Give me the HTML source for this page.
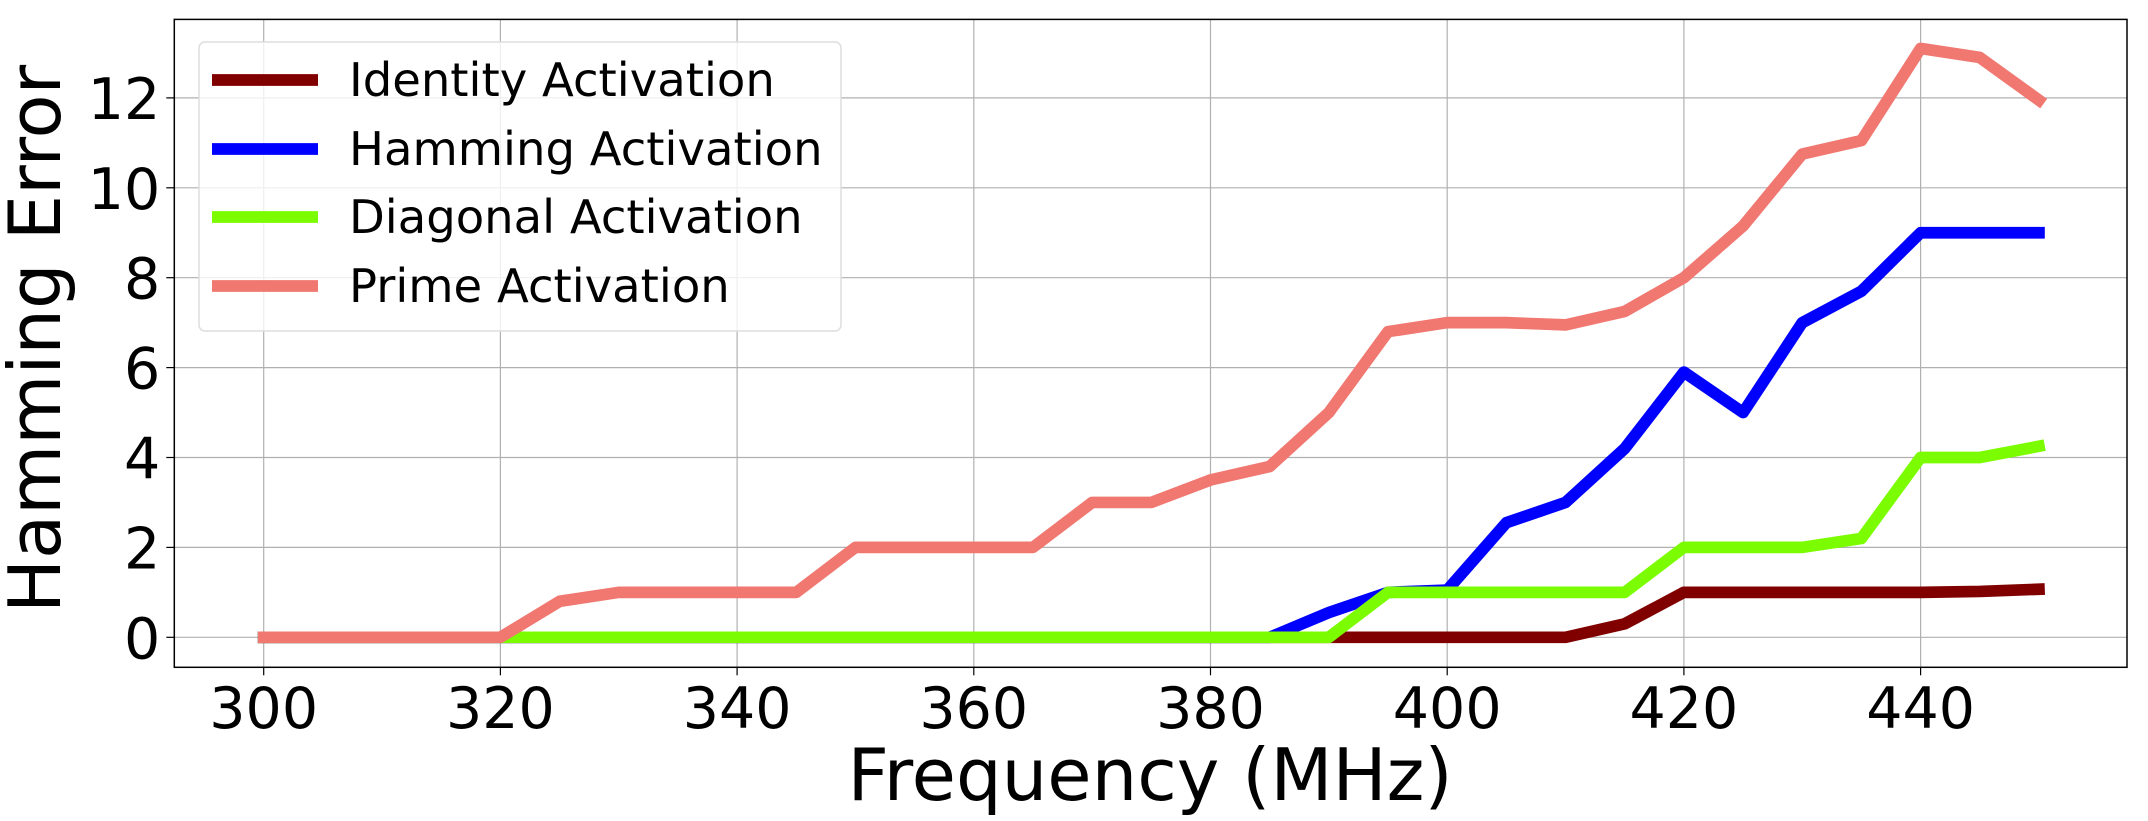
<!DOCTYPE html>
<html><head><meta charset="utf-8"><style>
html,body{margin:0;padding:0;background:#fff;}
svg{display:block;font-family:"DejaVu Sans","Liberation Sans",sans-serif;}
</style></head><body>
<svg id="s" width="2148" height="821" xmlns="http://www.w3.org/2000/svg"></svg>
<script>
const s=document.getElementById('s');
const X=f=>263.7+(f-300)*11.835, Y=v=>637.3-v*44.95;
const L=174.3,R=2127,T=19.4,B=667.3;
let h='';
for(let f=300;f<=440;f+=20){h+=`<line x1="${X(f)}" y1="${T}" x2="${X(f)}" y2="${B}" stroke="#b0b0b0" stroke-width="1.2"/>`;
h+=`<line x1="${X(f)}" y1="${B}" x2="${X(f)}" y2="${B+8}" stroke="#000" stroke-width="1.2"/>`;
h+=`<text x="${X(f)}" y="728" font-size="57" text-anchor="middle">${f}</text>`;}
for(let v=0;v<=12;v+=2){h+=`<line x1="${L}" y1="${Y(v)}" x2="${R}" y2="${Y(v)}" stroke="#b0b0b0" stroke-width="1.2"/>`;
h+=`<line x1="${L-8}" y1="${Y(v)}" x2="${L}" y2="${Y(v)}" stroke="#000" stroke-width="1.2"/>`;
h+=`<text x="${L-14}" y="${Y(v)+21}" font-size="57" text-anchor="end">${v}</text>`;}
const fs=[];for(let f=300;f<=450;f+=5)fs.push(f);
const z=n=>Array(n).fill(0);
const data=[
['#800000',z(23).concat([0.3,1,1,1,1,1,1.02,1.07])],
['#0000ff',z(18).concat([0.55,1,1.05,2.55,3,4.2,5.9,5,7,7.7,9,9,9])],
['#7cfc00',z(19).concat([1,1,1,1,1,2,2,2,2.2,4,4,4.25])],
['#f07870',z(5).concat([0.8,1,1,1,1,2,2,2,2,3,3,3.5,3.8,5,6.8,7,7,6.95,7.25,8,9.15,10.75,11.05,13.1,12.9,11.95])]
];
for(const [c,d] of data){h+=`<polyline fill="none" stroke="${c}" stroke-width="11.7" stroke-linejoin="round" stroke-linecap="square" points="${d.map((v,i)=>X(fs[i])+','+Y(v)).join(' ')}"/>`;}
h+=`<rect x="${L}" y="${T}" width="${R-L}" height="${B-T}" fill="none" stroke="#000" stroke-width="1.5"/>`;
h+=`<rect x="199" y="42" width="642" height="289" rx="6" fill="#fff" fill-opacity="0.8" stroke="#ddd" stroke-width="1.5"/>`;
const names=['Identity Activation','Hamming Activation','Diagonal Activation','Prime Activation'];
[80,149,217,286].forEach((y,i)=>{h+=`<line x1="212" y1="${y}" x2="318" y2="${y}" stroke="${data[i][0]}" stroke-width="11.7"/>`;
h+=`<text x="349" y="${y+16}" font-size="46.5">${names[i]}</text>`;});
h+=`<text x="1150" y="800" font-size="72" text-anchor="middle">Frequency (MHz)</text>`;
h+=`<text transform="translate(60,339) rotate(-90)" font-size="72" text-anchor="middle">Hamming Error</text>`;
s.innerHTML=h;
</script>
</body></html>
